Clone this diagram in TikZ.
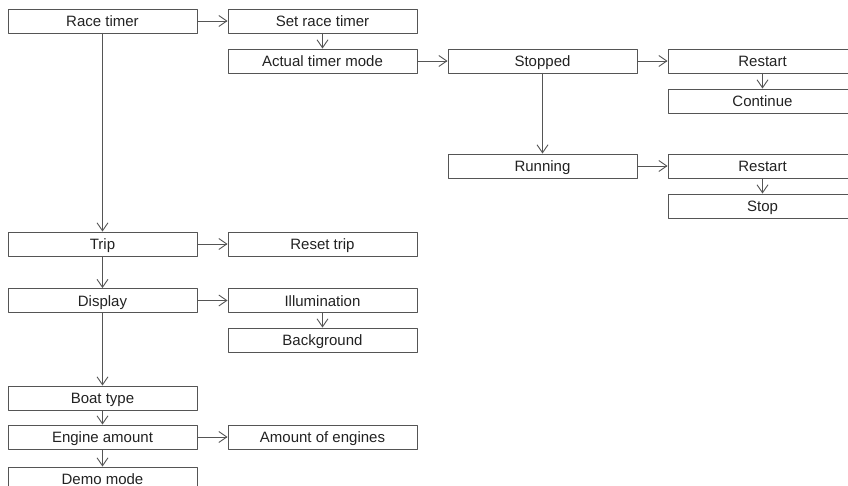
\documentclass[tikz,border=0pt]{standalone}
\usepackage{fontspec}
\setmainfont{Liberation Sans}
\usetikzlibrary{arrows.meta}
\definecolor{linegray}{HTML}{555555}
\definecolor{textgray}{HTML}{222222}
\tikzset{
  menubox/.style={draw=linegray, line width=0.9pt, minimum width=189pt,
    minimum height=24pt, inner sep=0pt, text=textgray,
    text height=11pt, text depth=0pt,
    font=\fontsize{15}{18}\selectfont},
}
\begin{document}
\begin{tikzpicture}[x=1pt, y=-1pt, line join=round, line cap=round,
	>={Straight Barb[length=8pt,width=11pt]}]
	\useasboundingbox (0,0) rectangle (848,486);
	% first column
	\node[menubox] (race) at (102.5,21) {Race timer};
	\node[menubox] (trip) at (102.5,244) {Trip};
	\node[menubox] (display) at (102.5,300.5) {Display};
	\node[menubox] (boat) at (102.5,398) {Boat type};
	\node[menubox] (engine) at (102.5,437) {Engine amount};
	\node[menubox] (demo) at (102.5,479) {Demo mode};
	% second column
	\node[menubox] (setrace) at (322.5,21) {Set race timer};
	\node[menubox] (actual) at (322.5,61) {Actual timer mode};
	\node[menubox] (resettrip) at (322.5,244) {Reset trip};
	\node[menubox] (illum) at (322.5,300.5) {Illumination};
	\node[menubox] (backgr) at (322.5,340) {Background};
	\node[menubox] (engines) at (322.5,437) {Amount of engines};
	% third and fourth column
	\node[menubox] (stopped) at (542.5,61) {Stopped};
	\node[menubox] (running) at (542.5,166) {Running};
	\node[menubox] (restarta) at (762.5,61) {Restart};
	\node[menubox] (continue) at (762.5,101) {Continue};
	\node[menubox] (restartb) at (762.5,166) {Restart};
	\node[menubox] (stop) at (762.5,206) {Stop};
	% connectors
	\begin{scope}[draw=linegray, line width=0.9pt]
	\draw[->] (race) -- (setrace);
	\draw[->] (race) -- (trip);
	\draw[->] (setrace) -- (actual);
	\draw[->] (actual) -- (stopped);
	\draw[->] (stopped) -- (restarta);
	\draw[->] (restarta) -- (continue);
	\draw[->] (stopped) -- (running);
	\draw[->] (running) -- (restartb);
	\draw[->] (restartb) -- (stop);
	\draw[->] (trip) -- (resettrip);
	\draw[->] (trip) -- (display);
	\draw[->] (display) -- (illum);
	\draw[->] (illum) -- (backgr);
	\draw[->] (display) -- (boat);
	\draw[->] (boat) -- (engine);
	\draw[->] (engine) -- (engines);
	\draw[->] (engine) -- (demo);
	\end{scope}
\end{tikzpicture}
\end{document}
